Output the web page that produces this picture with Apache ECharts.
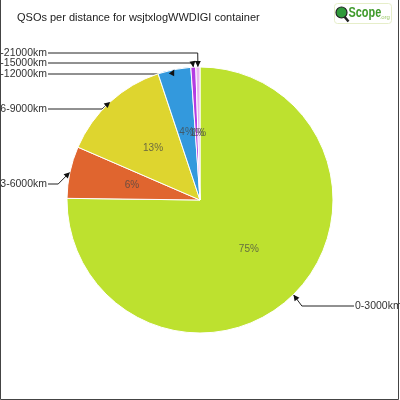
<!DOCTYPE html>
<html><head><meta charset="utf-8">
<script src="https://cdn.jsdelivr.net/npm/echarts@6/dist/echarts.min.js"></script>
<style>html,body{margin:0;padding:0;background:#fff}#c{width:400px;height:400px}</style>
</head><body><div id="c"></div>
<script>
const categories = ['0-3000km','3-6000km','6-9000km','9-12000km','12-15000km','15-21000km'];
const values = [75.2, 6.3, 13.4, 4.0, 0.6, 0.5];
const colors = ['#BDE12F','#E0652F','#DED52F','#3399DD','#B43CE3','#E9B4F0'];
const titleText = 'QSOs per distance for wsjtxlogWWDIGI container';
// vertical placement of the outside labels (layout, like the reference)
const labelY = [306, 184, 109, 74, 63, 53];

const CX = 200, CY = 200, R = 133;
const chart = echarts.init(document.getElementById('c'), null, {renderer:'canvas'});
const data = categories.map((n,i)=>({name:n, value:values[i], itemStyle:{color:colors[i]}}));
const arrowPts = {};
const pctFmt = p=>Math.round(p.percent)+'%';
const innerFont = {fontFamily:'Liberation Sans', fontSize:10, color:'rgba(70,70,70,0.75)'};

function labelLayout(params){
  const pts = params.labelLinePoints;
  if(!pts) return {};
  const i = params.dataIndex;
  const p0 = pts[0];
  const s = (p0[0]-CX)/R;
  const isLeft = s < 0;
  const tx = isLeft ? 47 : 355;
  const y = labelY[i];
  const knee = [p0[0] + 12*s, y];
  const np = [p0.slice(), knee, [isLeft ? tx + 1 : tx - 1, y]];
  arrowPts[i] = [np[0], np[1]];
  return {x: tx, y: y, align: isLeft ? 'right' : 'left', verticalAlign: 'middle', labelLinePoints: np};
}
// inside percentage for the very thin slices (placed at half radius on the slice's middle)
function tinyLayout(params){
  const pts = params.labelLinePoints;
  if(!pts) return {};
  const p0 = pts[0];
  return {x: CX + (p0[0]-CX)*0.5, y: CY + (p0[1]-CY)*0.5, align:'center', verticalAlign:'middle', labelLinePoints:[[0,0],[0,0],[0,0]]};
}

const option = {
  animation:false,
  title:{text:titleText, left:17, top:12, padding:0, textStyle:{fontFamily:'Liberation Sans', fontSize:11, fontWeight:'normal', color:'#222'}},
  series:[
    {type:'pie', radius:R, center:[CX,CY], startAngle:90, silent:true,
     data:data, itemStyle:{borderColor:'#fff', borderWidth:1},
     label:Object.assign({position:'inside', formatter:pctFmt}, innerFont),
     labelLine:{show:false}},
    {type:'pie', radius:R, center:[CX,CY], startAngle:90, silent:true,
     data:data.map(d=>({name:d.name, value:d.value})),
     itemStyle:{color:'rgba(0,0,0,0)', borderWidth:0},
     label:{position:'outside', overflow:'none', fontFamily:'Liberation Sans', fontSize:10.5, color:'#333', formatter:'{b}'},
     labelLine:{show:true, length:13, length2:20, smooth:false, lineStyle:{color:'#222', width:1}},
     labelLayout:labelLayout},
    {type:'pie', radius:R, center:[CX,CY], startAngle:90, silent:true,
     data:data.map((d,i)=>({name:d.name, value:d.value, label:{show: values[i] < 1}})),
     itemStyle:{color:'rgba(0,0,0,0)', borderWidth:0},
     label:Object.assign({position:'outside', overflow:'none', formatter:pctFmt}, innerFont),
     labelLine:{show:false},
     labelLayout:tinyLayout}
  ]
};
chart.setOption(option);

function buildGraphic(){
  const g = [];
  Object.keys(arrowPts).forEach(k=>{
    const [p0,p1] = arrowPts[k];
    let dx = p0[0]-p1[0], dy = p0[1]-p1[1];
    const L = Math.hypot(dx,dy)||1; dx/=L; dy/=L;
    const len=6, w=3;
    const bx = p0[0]-dx*len, by = p0[1]-dy*len;
    g.push({type:'polygon', z:100, shape:{points:[[p0[0],p0[1]],[bx-dy*w,by+dx*w],[bx+dy*w,by-dx*w]]}, style:{fill:'#111'}});
  });
  g.push({type:'polyline', z:100, shape:{points:[[0.5,0],[0.5,399.5],[398.5,399.5],[398.5,0]]}, style:{stroke:'#444', lineWidth:1, fill:null}});
  g.push({type:'group', left:334, top:3, z:100, children:[
    {type:'rect', shape:{x:0,y:0,width:57,height:20,r:3}, style:{fill:'#fff', stroke:'#e6eec9', lineWidth:1}},
    {type:'line', shape:{x1:9,y1:12,x2:14,y2:18}, style:{stroke:'#222', lineWidth:2.5}},
    {type:'circle', shape:{cx:7,cy:9,r:5.5}, style:{fill:'#2f9a3a', stroke:'#222', lineWidth:1.2}},
    {type:'text', x:14, y:3, scaleX:0.78, style:{x:0, y:0, text:'Scope', fontFamily:'Liberation Sans', fontSize:14, fontWeight:'bold', fill:'#3f9a2a'}},
    {type:'text', style:{x:45, y:11, text:'.org', fontFamily:'Liberation Sans', fontSize:6, fill:'#9cc86a'}}
  ]});
  return g;
}
chart.setOption({graphic: buildGraphic()});
</script></body></html>
